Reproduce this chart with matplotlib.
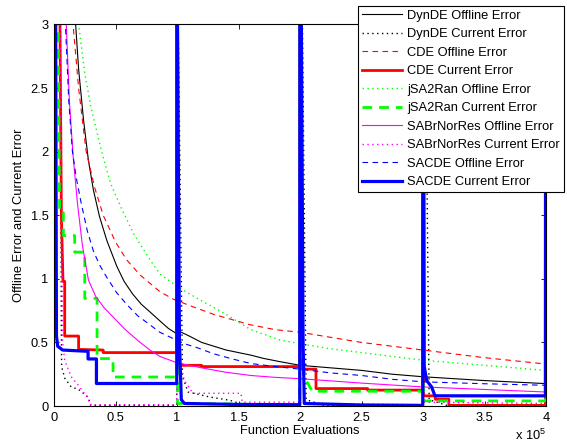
import matplotlib
matplotlib.use("Agg")
import matplotlib.pyplot as plt

plt.rcParams["font.family"] = ["Liberation Sans", "DejaVu Sans"]
plt.rcParams["mathtext.fontset"] = "custom"
plt.rcParams["mathtext.rm"] = "Liberation Sans"
FS = 9.3

# x values are in units of 1e5 function evaluations
# ---- offline errors ----
dyn_off_x = [0.12, 0.15, 0.176, 0.2, 0.24, 0.28, 0.32, 0.37, 0.43, 0.51, 0.57, 0.64, 0.71,
             0.78, 0.86, 0.93, 0.995, 1.035, 1.1, 1.2, 1.3, 1.4, 1.5, 1.6, 1.7, 1.83,
             2.0, 2.25, 2.5, 2.75, 3.0, 3.5, 4.0]
dyn_off_y = [4.5, 3.6, 3.0, 2.65, 2.25, 1.93, 1.7, 1.49, 1.3, 1.1, 0.98, 0.88, 0.8,
             0.74, 0.67, 0.61, 0.57, 0.58, 0.55, 0.5, 0.47, 0.44, 0.42, 0.40, 0.375, 0.35,
             0.32, 0.3, 0.28, 0.25, 0.23, 0.2, 0.176]

cde_off_x = [0.1, 0.13, 0.155, 0.2, 0.26, 0.33, 0.4, 0.5, 0.59, 0.7, 0.86, 0.97, 1.13,
             1.3, 1.59, 1.8, 2.0, 2.25, 2.5, 2.75, 3.0, 3.25, 3.5, 3.75, 4.0]
cde_off_y = [4.6, 3.6, 3.0, 2.5, 2.01, 1.72, 1.5, 1.29, 1.15, 1.03, 0.9, 0.84, 0.78,
             0.72, 0.64, 0.6, 0.58, 0.54, 0.5, 0.47, 0.44, 0.41, 0.38, 0.355, 0.33]

jsa_off_x = [0.13, 0.16, 0.2, 0.25, 0.3, 0.385, 0.46, 0.55, 0.65, 0.78, 0.86, 1.0, 1.14,
             1.27, 1.4, 1.5, 1.6, 1.72, 1.835, 2.0, 2.25, 2.5, 2.75, 3.0, 3.5, 4.0]
jsa_off_y = [4.5, 3.6, 3.0, 2.62, 2.35, 2.01, 1.75, 1.55, 1.35, 1.15, 1.04, 0.94, 0.86,
             0.79, 0.72, 0.66, 0.6, 0.56, 0.52, 0.49, 0.45, 0.42, 0.39, 0.36, 0.32, 0.28]

sab_off_x = [0.065, 0.08, 0.1, 0.125, 0.155, 0.19, 0.23, 0.28, 0.34, 0.41, 0.48, 0.58,
             0.7, 0.78, 0.86, 1.0, 1.2, 1.4, 1.6, 1.8, 2.0, 2.5, 3.0, 3.5, 4.0]
sab_off_y = [4.5, 3.7, 3.0, 2.4, 1.97, 1.6, 1.27, 0.99, 0.86, 0.77, 0.70, 0.6,
             0.5, 0.44, 0.39, 0.34, 0.3, 0.265, 0.24, 0.225, 0.215, 0.18, 0.15, 0.13, 0.11]

sac_off_x = [0.06, 0.075, 0.093, 0.12, 0.15, 0.18, 0.22, 0.27, 0.32, 0.37, 0.43, 0.51,
             0.6, 0.68, 0.75, 0.86, 0.97, 1.06, 1.16, 1.3, 1.45, 1.6, 1.8, 2.0, 2.25,
             2.5, 2.75, 3.0, 3.5, 4.0]
sac_off_y = [4.5, 3.6, 3.0, 2.4, 2.0, 1.8, 1.6, 1.38, 1.22, 1.11, 1.01, 0.89,
             0.79, 0.71, 0.66, 0.58, 0.53, 0.49, 0.46, 0.41, 0.37, 0.334, 0.31, 0.29, 0.26,
             0.24, 0.21, 0.19, 0.175, 0.163]

# ---- current errors ----
dyn_cur_x = [0.0, 0.05, 0.06, 0.062, 0.087, 0.14, 0.2, 0.277, 0.3, 0.998,
             1.0, 1.01, 1.04, 1.045, 1.09, 1.27, 1.43, 1.51, 1.55, 1.998,
             2.0, 2.02, 2.05, 2.2, 2.998, 3.0, 3.02, 3.05, 3.2, 3.995, 4.0]
dyn_cur_y = [8.0, 3.0, 0.6, 0.31, 0.22, 0.15, 0.13, 0.07, 0.005, 0.005,
             8.0, 3.0, 0.6, 0.23, 0.11, 0.07, 0.045, 0.02, 0.003, 0.003,
             8.0, 3.0, 0.05, 0.003, 0.003, 8.0, 3.0, 0.05, 0.003, 0.003, 8.0]

cde_cur_x = [0.0, 0.045, 0.06, 0.073, 0.087, 0.087, 0.2, 0.2, 0.4, 0.4, 0.998,
             1.0, 1.004, 1.2, 1.2, 1.998, 2.0, 2.004, 2.13, 2.13, 2.55, 2.55, 2.998,
             3.0, 3.004, 3.1, 3.1, 3.21, 3.21, 3.995, 4.0]
cde_cur_y = [8.0, 3.5, 1.5, 0.98, 0.98, 0.55, 0.55, 0.445, 0.44, 0.42, 0.42,
             8.0, 0.32, 0.32, 0.31, 0.31, 8.0, 0.29, 0.29, 0.137, 0.137, 0.125, 0.125,
             8.0, 0.08, 0.08, 0.053, 0.053, 0.005, 0.005, 8.0]

jsa_cur_x = [0.0, 0.03, 0.046, 0.076, 0.076, 0.168, 0.168, 0.25, 0.25, 0.35, 0.35,
             0.48, 0.48, 0.998, 1.0, 1.004, 1.998, 2.0, 2.004, 2.05, 2.1, 2.998,
             3.0, 3.004, 3.995, 4.0]
jsa_cur_y = [8.0, 3.5, 1.52, 1.52, 1.34, 1.34, 1.21, 1.21, 0.846, 0.846, 0.373,
             0.373, 0.228, 0.228, 8.0, 0.02, 0.01, 8.0, 0.4, 0.2, 0.116, 0.116,
             8.0, 0.04, 0.04, 8.0]

sab_cur_x = [0.0, 0.05, 0.07, 0.087, 0.14, 0.2, 0.277, 0.29, 0.998,
             1.0, 1.005, 1.06, 1.13, 1.52, 1.53, 1.998, 2.0, 2.004, 2.998,
             3.0, 3.004, 3.995, 4.0]
sab_cur_y = [8.0, 3.0, 0.5, 0.36, 0.23, 0.16, 0.06, 0.01, 0.01,
             8.0, 0.4, 0.2, 0.10, 0.10, 0.03, 0.03, 8.0, 0.02, 0.01,
             8.0, 0.03, 0.02, 8.0]

sac_cur_x = [0.0, 0.012, 0.02, 0.03, 0.07, 0.277, 0.277, 0.345, 0.345, 0.998,
             1.0, 1.003, 1.02, 1.035, 1.06, 1.5, 1.998, 2.0, 2.01, 2.025, 2.035, 2.5, 2.998,
             3.0, 3.005, 3.01, 3.03, 3.07, 3.095, 3.11, 3.995, 4.0]
sac_cur_y = [8.0, 3.5, 0.55, 0.47, 0.44, 0.43, 0.37, 0.37, 0.177, 0.177,
             8.0, 3.2, 0.5, 0.05, 0.02, 0.012, 0.01, 8.0, 3.2, 0.5, 0.02, 0.008, 0.005,
             8.0, 3.2, 0.31, 0.2, 0.15, 0.085, 0.08, 0.08, 8.0]

labels = ["DynDE Offline Error", "DynDE Current Error",
          "CDE Offline Error", "CDE Current Error",
          "jSA2Ran Offline Error", "jSA2Ran Current Error",
          "SABrNorRes Offline Error", "SABrNorRes Current Error",
          "SACDE Offline Error", "SACDE Current Error"]

dot = (0, (1, 2.5))
series = [
    (dyn_off_x, dyn_off_y, "black", "-", 0.8),
    (dyn_cur_x, dyn_cur_y, "black", dot, 1.0),
    (cde_off_x, cde_off_y, "red", (0, (5, 4)), 0.8),
    (cde_cur_x, cde_cur_y, "red", "-", 2.0),
    (jsa_off_x, jsa_off_y, "#00ff00", dot, 1.0),
    (jsa_cur_x, jsa_cur_y, "#00ff00", (0, (3.5, 2.5)), 2.0),
    (sab_off_x, sab_off_y, "magenta", "-", 0.8),
    (sab_cur_x, sab_cur_y, "magenta", dot, 1.0),
    (sac_off_x, sac_off_y, "blue", (0, (5, 4)), 0.8),
    (sac_cur_x, sac_cur_y, "blue", "-", 2.3),
]

fig = plt.figure(figsize=(5.67, 4.48), dpi=100)
ax = fig.add_axes([54 / 567, 42 / 448, 492 / 567, 381.5 / 448])

handles = []
for (xs, ys, col, ls, lw), lab in zip(series, labels):
    h, = ax.plot(xs, ys, color=col, linestyle=ls, linewidth=lw, label=lab)
    handles.append(h)

ax.set_xlim(0, 4)
ax.set_ylim(0, 3)
ax.set_xticks([0, 0.5, 1, 1.5, 2, 2.5, 3, 3.5, 4])
ax.set_xticklabels(["0", "0.5", "1", "1.5", "2", "2.5", "3", "3.5", "4"])
ax.set_yticks([0, 0.5, 1, 1.5, 2, 2.5, 3])
ax.set_yticklabels(["0", "0.5", "1", "1.5", "2", "2.5", "3"])
ax.tick_params(direction="in", top=True, right=True, length=3.5, width=0.6,
               labelsize=FS, pad=4)
for sp in ax.spines.values():
    sp.set_linewidth(0.8)

ax.set_xlabel("Function Evaluations", fontsize=FS, labelpad=1)
ax.set_ylabel("Offline Error and Current Error", fontsize=FS, labelpad=4)
fig.text(515 / 567, 1 - 440 / 448, r"x 10$^5$", fontsize=FS, ha="left", va="baseline")

leg = fig.legend(handles=handles, loc="upper right",
                 bbox_to_anchor=(564 / 567, 442 / 448), borderaxespad=0,
                 fontsize=FS, handlelength=3.1, handletextpad=0.4,
                 labelspacing=0.5, borderpad=0.3, fancybox=False,
                 framealpha=1, edgecolor="black")
leg.get_frame().set_linewidth(0.8)

fig.savefig("out.png", dpi=100)
